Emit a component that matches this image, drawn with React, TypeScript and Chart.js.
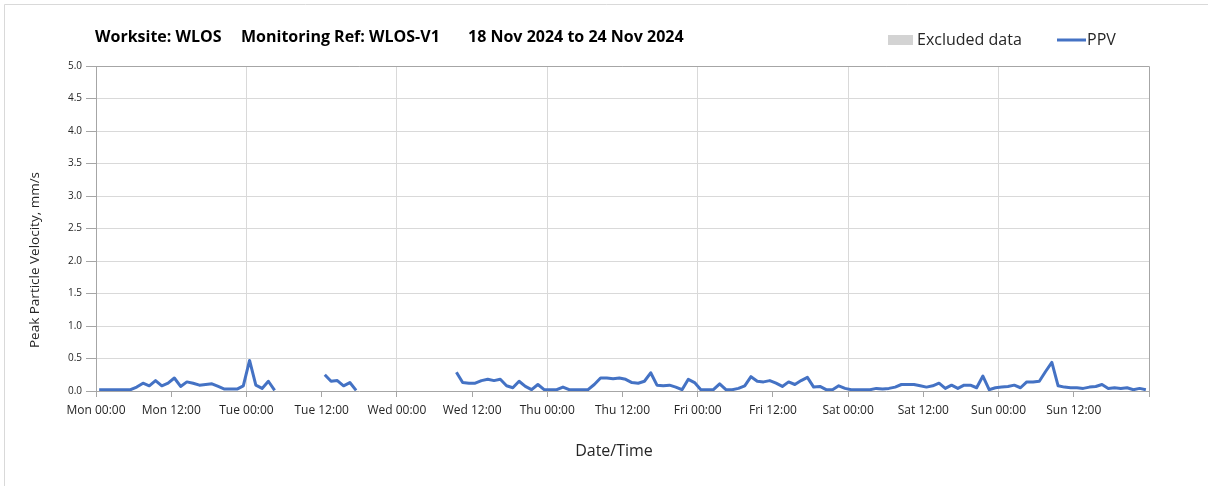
import React, { useEffect, useRef } from "react";
import { Chart, registerables } from "chart.js";

Chart.register(...registerables);

const TITLE_PARTS = ["Worksite: WLOS", "Monitoring Ref: WLOS-V1", "18 Nov 2024 to 24 Nov 2024"];
const DAY_NAMES = ["Mon", "Tue", "Wed", "Thu", "Fri", "Sat", "Sun"];
const Y_TITLE = "Peak Particle Velocity, mm/s";
const X_TITLE = "Date/Time";
const LEGEND_EXCLUDED = "Excluded data";
const LEGEND_PPV = "PPV";

// hourly samples (hours from Mon 00:00, taken at half past each hour)
const SAMPLE_HOURS: number[] = Array.from({ length: 168 }, (_, i) => i + 0.5);

const PPV: (number | null)[] = [
  0.02, 0.02, 0.02, 0.02, 0.02, 0.02, 0.06, 0.12, 0.08, 0.16, 0.08, 0.12,
  0.20, 0.07, 0.14, 0.12, 0.09, 0.10, 0.11, 0.07, 0.03, 0.03, 0.03, 0.08,
  0.47, 0.09, 0.04, 0.15, 0.01, null, null, null, null, null, null, null,
  0.25, 0.15, 0.16, 0.08, 0.13, 0.01, null, null, null, null, null, null,
  null, null, null, null, null, null, null, null, null, 0.29, 0.13, 0.12,
  0.12, 0.16, 0.18, 0.16, 0.18, 0.08, 0.05, 0.15, 0.07, 0.02, 0.10, 0.02,
  0.02, 0.02, 0.06, 0.02, 0.02, 0.02, 0.02, 0.10, 0.20, 0.20, 0.19, 0.20,
  0.18, 0.13, 0.12, 0.15, 0.28, 0.09, 0.08, 0.09, 0.06, 0.02, 0.18, 0.13,
  0.02, 0.02, 0.02, 0.11, 0.02, 0.02, 0.04, 0.08, 0.22, 0.15, 0.14, 0.16,
  0.12, 0.07, 0.14, 0.10, 0.16, 0.21, 0.06, 0.07, 0.02, 0.02, 0.08, 0.04,
  0.02, 0.02, 0.02, 0.02, 0.04, 0.03, 0.04, 0.06, 0.10, 0.10, 0.10, 0.08,
  0.06, 0.08, 0.12, 0.04, 0.09, 0.04, 0.09, 0.09, 0.05, 0.23, 0.02, 0.05,
  0.06, 0.07, 0.09, 0.05, 0.14, 0.14, 0.15, 0.30, 0.44, 0.08, 0.06, 0.05,
  0.05, 0.04, 0.06, 0.07, 0.10, 0.04, 0.05, 0.04, 0.05, 0.02, 0.04, 0.02,
];

const LINE_COLOR = "#4472C4";
const GRID_COLOR = "#d9d9d9";
const AXIS_COLOR = "#a6a6a6";
const TEXT_COLOR = "#262626";
const SANS = "'Open Sans', 'Noto Sans', sans-serif";

const overlayPlugin = {
  id: "overlay",
  afterDraw(chart: any) {
    const { ctx, chartArea } = chart;
    ctx.save();
    // outer border (top & left)
    ctx.strokeStyle = "#d9d9d9";
    ctx.lineWidth = 1;
    ctx.beginPath();
    ctx.moveTo(4.5, 486);
    ctx.lineTo(4.5, 4.5);
    ctx.lineTo(1208, 4.5);
    ctx.stroke();

    // plot frame
    ctx.strokeStyle = AXIS_COLOR;
    ctx.beginPath();
    ctx.moveTo(chartArea.left, chartArea.top + 0.5);
    ctx.lineTo(chartArea.right + 0.5, chartArea.top + 0.5);
    ctx.lineTo(chartArea.right + 0.5, chartArea.bottom + 5);
    ctx.stroke();

    // title
    ctx.fillStyle = "#000";
    ctx.font = `bold 16px ${SANS}`;
    ctx.textBaseline = "middle";
    ctx.textAlign = "left";
    const xs = [95, 241, 468];
    TITLE_PARTS.forEach((t, i) => ctx.fillText(t, xs[i], 37));

    // legend
    ctx.fillStyle = "#d3d3d3";
    ctx.fillRect(888, 35, 25, 10);
    ctx.fillStyle = TEXT_COLOR;
    ctx.font = `16px ${SANS}`;
    ctx.fillText(LEGEND_EXCLUDED, 917, 40);
    ctx.strokeStyle = LINE_COLOR;
    ctx.lineWidth = 3;
    ctx.beginPath();
    ctx.moveTo(1057, 40);
    ctx.lineTo(1086, 40);
    ctx.stroke();
    ctx.fillText(LEGEND_PPV, 1087, 40);

    // axis titles
    ctx.fillStyle = TEXT_COLOR;
    ctx.font = `16px ${SANS}`;
    ctx.textAlign = "center";
    ctx.fillText(X_TITLE, 614, 451);
    ctx.translate(35, 260);
    ctx.rotate(-Math.PI / 2);
    ctx.font = `13.5px ${SANS}`;
    ctx.fillText(Y_TITLE, 0, 0);
    ctx.restore();
  },
};

export default function App() {
  const canvasRef = useRef<HTMLCanvasElement | null>(null);

  useEffect(() => {
    document.body.style.margin = "0";
    const canvas = canvasRef.current;
    if (!canvas) return;
    const chart = new Chart(canvas, {
      type: "line",
      data: {
        datasets: [
          {
            label: LEGEND_PPV,
            data: SAMPLE_HOURS.map((h, i) => ({ x: h, y: PPV[i] as any })),
            borderColor: LINE_COLOR,
            backgroundColor: LINE_COLOR,
            borderWidth: 3,
            pointRadius: 0,
            tension: 0,
            spanGaps: false,
            borderJoinStyle: "round",
          },
        ],
      },
      options: {
        animation: false,
        responsive: false,
        maintainAspectRatio: false,
        layout: { padding: { top: 66, right: 59, bottom: 0, left: 0 } },
        plugins: {
          legend: { display: false },
          tooltip: { enabled: false },
          title: { display: false },
        },
        scales: {
          x: {
            type: "linear",
            min: 0,
            max: 168,
            afterFit: (s: any) => {
              s.height = 95;
            },
            ticks: {
              stepSize: 12,
              autoSkip: false,
              maxRotation: 0,
              padding: 6,
              color: TEXT_COLOR,
              font: { family: SANS, size: 12 },
              callback: (v: any) => {
                const n = Number(v);
                if (n >= 168) return "";
                const d = Math.floor(n / 24);
                const hh = n % 24 === 0 ? "00:00" : "12:00";
                return `${DAY_NAMES[d]} ${hh}`;
              },
            },
            grid: {
              color: (c: any) => (c.tick && c.tick.value % 24 === 0 && c.tick.value > 0 && c.tick.value < 168 ? GRID_COLOR : "rgba(0,0,0,0)"),
              tickColor: AXIS_COLOR,
              tickLength: 6,
              drawTicks: true,
            },
            border: { color: AXIS_COLOR, width: 1 },
            title: { display: false },
          },
          y: {
            min: 0,
            max: 5,
            afterFit: (s: any) => {
              s.width = 96;
            },
            ticks: {
              stepSize: 0.5,
              padding: 4,
              color: TEXT_COLOR,
              font: { family: SANS, size: 10 },
              callback: (v: any) => Number(v).toFixed(1),
            },
            grid: {
              color: (c: any) => (c.tick && c.tick.value > 0 ? GRID_COLOR : "rgba(0,0,0,0)"),
              tickColor: AXIS_COLOR,
              tickLength: 10,
            },
            border: { color: AXIS_COLOR, width: 1 },
            title: { display: false },
          },
        },
      },
      plugins: [overlayPlugin],
    });
    return () => chart.destroy();
  }, []);

  return (
    <div style={{ position: "relative", width: 1208, height: 486 }}>
      <canvas ref={canvasRef} width={1208} height={486} style={{ display: "block", width: 1208, height: 486 }} />
    </div>
  );
}
